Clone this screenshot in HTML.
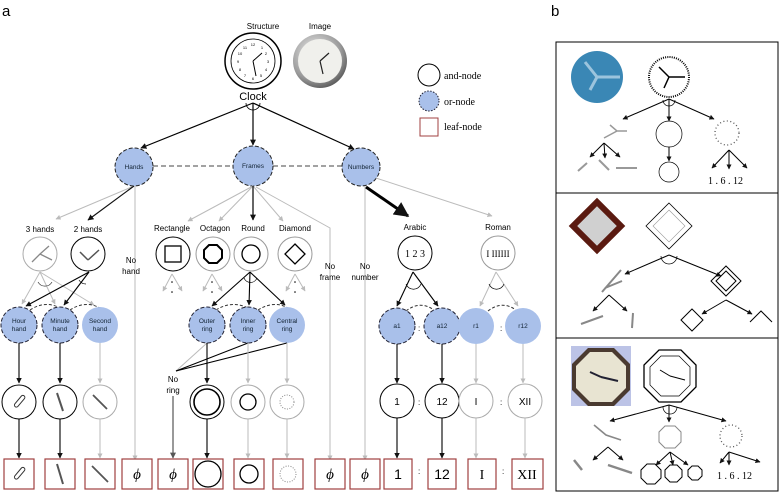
<!DOCTYPE html>
<html><head><meta charset="utf-8"><style>
html,body{margin:0;padding:0;background:#fff;}
svg{display:block;font-family:"Liberation Sans",sans-serif;}
</style></head><body>
<svg width="779" height="492" viewBox="0 0 779 492" xmlns="http://www.w3.org/2000/svg">
<defs>
<marker id="ab" viewBox="0 0 10 10" refX="9" refY="5" markerWidth="5" markerHeight="5" orient="auto-start-reverse"><path d="M0,0L10,5L0,10z" fill="#111"/></marker>
<marker id="ag" viewBox="0 0 10 10" refX="9" refY="5" markerWidth="5" markerHeight="5" orient="auto-start-reverse"><path d="M0,0L10,5L0,10z" fill="#bbb"/></marker>
<marker id="ad" viewBox="0 0 10 10" refX="9" refY="5" markerWidth="5" markerHeight="5" orient="auto-start-reverse"><path d="M0,0L10,5L0,10z" fill="#555"/></marker>
<radialGradient id="met" cx="0.4" cy="0.35" r="0.7"><stop offset="0" stop-color="#eee"/><stop offset="0.7" stop-color="#999"/><stop offset="1" stop-color="#555"/></radialGradient>
</defs>
<text x="2" y="16" font-size="15">a</text>
<text x="551" y="16" font-size="15">b</text>

<!-- top clocks -->
<text x="263" y="29" font-size="8" text-anchor="middle">Structure</text>
<text x="320" y="29" font-size="8" text-anchor="middle">Image</text>
<circle cx="253" cy="61" r="28" fill="#fff" stroke="#000" stroke-width="1.5"/>
<circle cx="253" cy="61" r="22" fill="none" stroke="#000" stroke-width="0.8"/>
<g font-size="4" text-anchor="middle"><text x="253" y="46">12</text><text x="268" y="63">3</text><text x="253" y="80">6</text><text x="238" y="63">9</text><text x="262" y="49">1</text><text x="266" y="55">2</text><text x="266" y="71">4</text><text x="261" y="77">5</text><text x="245" y="77">7</text><text x="240" y="71">8</text><text x="240" y="55">10</text><text x="245" y="49">11</text></g>
<path d="M253,61L262,53M253,61L256,76" stroke="#000" stroke-width="1"/>
<circle cx="320" cy="61" r="27" fill="url(#met)"/>
<circle cx="320" cy="61" r="22" fill="#f0f0ec"/>
<path d="M320,61L329,53M320,61L323,74" stroke="#222" stroke-width="1.2"/>
<text x="253" y="100" font-size="11" text-anchor="middle">Clock</text>
<path d="M246,103 A7,7 0 0 0 260,103" fill="none" stroke="#000" stroke-width="0.8"/>

<!-- legend -->
<circle cx="429" cy="75" r="11" fill="#fff" stroke="#000"/>
<text x="444" y="79" font-size="10" font-family="Liberation Serif">and-node</text>
<circle cx="429" cy="101" r="10" fill="#a9c0ea" stroke="#223" stroke-dasharray="1.5,1.5"/>
<text x="444" y="105" font-size="10" font-family="Liberation Serif">or-node</text>
<rect x="420" y="118" width="18" height="18" fill="#fff" stroke="#a04040"/>
<text x="444" y="130" font-size="10" font-family="Liberation Serif">leaf-node</text>

<!-- level 1 -->
<g stroke="#000" stroke-width="1.2" marker-end="url(#ab)">
<line x1="253" y1="103" x2="141" y2="148"/><line x1="253" y1="103" x2="253" y2="145"/><line x1="253" y1="103" x2="354" y2="149"/>
</g>
<line x1="153" y1="166" x2="233" y2="166" stroke="#444" stroke-dasharray="5,3"/>
<line x1="273" y1="166" x2="342" y2="166" stroke="#444" stroke-dasharray="5,3"/>
<g fill="#a9c0ea" stroke="#222" stroke-dasharray="4,2">
<circle cx="134" cy="167" r="19"/><circle cx="253" cy="166" r="20"/><circle cx="361" cy="167" r="19"/></g>
<g font-size="6.5" text-anchor="middle" fill="#123"><text x="134" y="169">Hands</text><text x="253" y="168">Frames</text><text x="361" y="169">Numbers</text></g>

<!-- from Hands -->
<line x1="134" y1="186" x2="56" y2="219" stroke="#bbb" marker-end="url(#ag)"/>
<line x1="134" y1="186" x2="88" y2="220" stroke="#111" stroke-width="1.2" marker-end="url(#ab)"/>
<line x1="135" y1="186" x2="135" y2="460" stroke="#bbb" marker-end="url(#ag)"/>
<text x="131" y="263" font-size="8" text-anchor="middle">No</text><text x="131" y="274" font-size="8" text-anchor="middle">hand</text>
<!-- from Frames -->
<g stroke="#bbb" marker-end="url(#ag)"><line x1="253" y1="186" x2="188" y2="221"/><line x1="253" y1="186" x2="219" y2="221"/><line x1="253" y1="186" x2="283" y2="221"/></g>
<line x1="253" y1="186" x2="253" y2="220" stroke="#000" stroke-width="1.2" marker-end="url(#ab)"/>
<polyline points="256,187 330,228 330,460" fill="none" stroke="#bbb" marker-end="url(#ag)"/>
<text x="330" y="269" font-size="8" text-anchor="middle">No</text><text x="330" y="280" font-size="8" text-anchor="middle">frame</text>
<!-- from Numbers -->
<line x1="365" y1="186" x2="365" y2="460" stroke="#bbb" marker-end="url(#ag)"/>
<text x="365" y="269" font-size="8" text-anchor="middle">No</text><text x="365" y="280" font-size="8" text-anchor="middle">number</text>
<line x1="366" y1="187" x2="408" y2="216" stroke="#000" stroke-width="3" marker-end="url(#ab)"/>
<line x1="376" y1="178" x2="492" y2="216" stroke="#bbb" marker-end="url(#ag)"/>

<!-- level 2 labels -->
<g font-size="8" text-anchor="middle"><text x="40" y="232">3 hands</text><text x="88" y="232">2 hands</text><text x="172" y="231">Rectangle</text><text x="215" y="231">Octagon</text><text x="253" y="231">Round</text><text x="295" y="231">Diamond</text><text x="415" y="230">Arabic</text><text x="498" y="230">Roman</text></g>
<circle cx="40" cy="254" r="17" fill="#fff" stroke="#aaa"/>
<path d="M40,254L49,246M40,254L32,262M40,254L52,260" stroke="#888" stroke-width="1.3"/>
<circle cx="88" cy="254" r="17" fill="#fff" stroke="#000"/>
<path d="M88,260L80,252M88,260L99,250" stroke="#555" stroke-width="1.5"/>
<circle cx="173" cy="254" r="17" fill="#fff" stroke="#000"/><rect x="165" y="246" width="16" height="16" fill="none" stroke="#000" stroke-width="1.3"/>
<circle cx="213" cy="254" r="17" fill="#fff" stroke="#999"/><polygon points="209,245 217,245 222,250 222,258 217,263 209,263 204,258 204,250" fill="none" stroke="#000" stroke-width="2"/>
<circle cx="251" cy="254" r="17" fill="#fff" stroke="#999"/><circle cx="251" cy="254" r="9" fill="none" stroke="#000" stroke-width="1.3"/>
<circle cx="295" cy="254" r="17" fill="#fff" stroke="#999"/><polygon points="295,244 305,254 295,264 285,254" fill="none" stroke="#000" stroke-width="1.3"/>
<circle cx="415" cy="253" r="17" fill="#fff" stroke="#000"/><text x="415" y="257" font-size="10" text-anchor="middle" font-family="Liberation Serif">1 2 3</text>
<circle cx="498" cy="253" r="17" fill="#fff" stroke="#999"/><text x="498" y="257" font-size="9" text-anchor="middle" font-family="Liberation Serif">I IIIIII</text>
<!-- dotted grey triangles -->
<g stroke="#bbb" marker-end="url(#ag)">
<line x1="172" y1="274" x2="163" y2="291"/><line x1="172" y1="274" x2="182" y2="291"/>
<line x1="212" y1="274" x2="203" y2="291"/><line x1="212" y1="274" x2="222" y2="291"/>
<line x1="295" y1="274" x2="286" y2="291"/><line x1="295" y1="274" x2="305" y2="291"/></g>
<g fill="#000"><circle cx="172" cy="282" r="0.8"/><circle cx="172" cy="292" r="0.8"/><circle cx="212" cy="282" r="0.8"/><circle cx="212" cy="292" r="0.8"/><circle cx="295" cy="282" r="0.8"/><circle cx="295" cy="292" r="0.8"/></g>

<!-- level 2 -> 3 -->
<g stroke="#bbb" marker-end="url(#ag)"><line x1="40" y1="272" x2="22" y2="304"/><line x1="40" y1="272" x2="55" y2="304"/><line x1="40" y1="272" x2="94" y2="305"/></g>
<path d="M38,282 A8,8 0 0 0 52,282" fill="none" stroke="#333" stroke-width="0.7"/>
<g stroke="#000" stroke-width="1.1" marker-end="url(#ab)"><line x1="89" y1="272" x2="26" y2="306"/><line x1="89" y1="272" x2="64" y2="305"/></g>
<path d="M79,280 A8,8 0 0 0 86,284" fill="none" stroke="#000" stroke-width="0.7"/>
<g stroke="#000" stroke-width="1.1" marker-end="url(#ab)"><line x1="250" y1="272" x2="212" y2="306"/><line x1="250" y1="272" x2="249" y2="305"/><line x1="250" y1="272" x2="285" y2="305"/></g>
<path d="M244,278 A7,7 0 0 0 257,278" fill="none" stroke="#000" stroke-width="0.7"/>
<g stroke="#000" stroke-width="1.1" marker-end="url(#ab)"><line x1="413" y1="272" x2="397" y2="306"/><line x1="413" y1="272" x2="438" y2="306"/></g>
<path d="M406,284 A8,8 0 0 0 421,284" fill="none" stroke="#000" stroke-width="0.7"/>
<g stroke="#bbb" marker-end="url(#ag)"><line x1="496" y1="272" x2="480" y2="306"/><line x1="496" y1="272" x2="518" y2="306"/></g>
<path d="M489,284 A8,8 0 0 0 504,284" fill="none" stroke="#000" stroke-width="0.7"/>
<!-- dashed arcs between or nodes -->
<g fill="none" stroke="#333" stroke-dasharray="3,2"><path d="M30,310 Q45,300 60,308"/><path d="M70,310 Q85,300 100,308"/><path d="M216,310 Q232,300 248,308"/><path d="M258,310 Q274,300 288,308"/><path d="M406,311 Q420,300 434,310"/><path d="M488,311 Q502,300 516,310"/></g>

<!-- level 3 or nodes -->
<g fill="#a9c0ea" stroke="#223" stroke-dasharray="4,2"><circle cx="19" cy="325" r="18"/><circle cx="60" cy="325" r="18"/><circle cx="207" cy="325" r="18"/><circle cx="248" cy="325" r="18"/><circle cx="397" cy="326" r="18"/><circle cx="442" cy="326" r="18"/></g>
<g fill="#a9c0ea"><circle cx="100" cy="325" r="18"/><circle cx="287" cy="325" r="18"/><circle cx="476" cy="326" r="18"/><circle cx="523" cy="326" r="18"/></g>
<g font-size="6.5" text-anchor="middle" fill="#123">
<text x="19" y="323">Hour</text><text x="19" y="331">hand</text><text x="60" y="323">Minute</text><text x="60" y="331">hand</text><text x="100" y="323">Second</text><text x="100" y="331">hand</text>
<text x="207" y="323">Outer</text><text x="207" y="331">ring</text><text x="248" y="323">Inner</text><text x="248" y="331">ring</text><text x="287" y="323">Central</text><text x="287" y="331">ring</text>
<text x="397" y="328">a1</text><text x="442" y="328">a12</text><text x="476" y="328">r1</text><text x="523" y="328">r12</text></g>
<g font-size="8"><text x="418" y="331">:</text><text x="500" y="331">:</text><text x="418" y="405">:</text><text x="500" y="405">:</text><text x="418" y="474">:</text><text x="502" y="474">:</text></g>

<!-- No ring -->
<line x1="207" y1="343" x2="176" y2="371" stroke="#bbb"/>
<line x1="248" y1="343" x2="176" y2="371" stroke="#000"/>
<line x1="287" y1="343" x2="176" y2="371" stroke="#000"/>
<text x="173" y="382" font-size="8" text-anchor="middle">No</text><text x="173" y="393" font-size="8" text-anchor="middle">ring</text>
<line x1="173" y1="396" x2="173" y2="458" stroke="#555" stroke-width="1.2" marker-end="url(#ad)"/>

<!-- level 3 -> 4 -->
<g stroke="#000" stroke-width="1.1" marker-end="url(#ab)"><line x1="19" y1="343" x2="19" y2="383"/><line x1="60" y1="343" x2="60" y2="383"/><line x1="207" y1="343" x2="207" y2="383"/><line x1="397" y1="344" x2="397" y2="383"/><line x1="442" y1="344" x2="442" y2="383"/></g>
<g stroke="#bbb" marker-end="url(#ag)"><line x1="100" y1="343" x2="100" y2="383"/><line x1="248" y1="343" x2="248" y2="383"/><line x1="287" y1="343" x2="287" y2="383"/><line x1="476" y1="344" x2="476" y2="383"/><line x1="523" y1="344" x2="523" y2="383"/></g>

<!-- level 4 -->
<circle cx="19" cy="402" r="17" fill="#fff" stroke="#000"/><rect x="13" y="400" width="14" height="4" rx="2" transform="rotate(-50 19 402)" fill="none" stroke="#333"/>
<circle cx="60" cy="402" r="17" fill="#fff" stroke="#000"/><line x1="57" y1="393" x2="63" y2="411" stroke="#555" stroke-width="2"/>
<circle cx="100" cy="402" r="17" fill="#fff" stroke="#aaa"/><line x1="93" y1="395" x2="107" y2="409" stroke="#555" stroke-width="1.8"/>
<circle cx="207" cy="402" r="17" fill="#fff" stroke="#000"/><circle cx="207" cy="402" r="13" fill="none" stroke="#000" stroke-width="1.6"/>
<circle cx="248" cy="402" r="17" fill="#fff" stroke="#aaa"/><circle cx="248" cy="402" r="8" fill="none" stroke="#000" stroke-width="1.3"/>
<circle cx="287" cy="402" r="17" fill="#fff" stroke="#aaa"/><circle cx="287" cy="402" r="7" fill="none" stroke="#888" stroke-dasharray="1,1.5"/>
<circle cx="397" cy="401" r="17" fill="#fff" stroke="#000"/><text x="397" y="405" font-size="10" text-anchor="middle">1</text>
<circle cx="442" cy="401" r="17" fill="#fff" stroke="#000"/><text x="442" y="405" font-size="10" text-anchor="middle">12</text>
<circle cx="476" cy="401" r="17" fill="#fff" stroke="#aaa"/><text x="476" y="405" font-size="10" text-anchor="middle">I</text>
<circle cx="525" cy="401" r="17" fill="#fff" stroke="#aaa"/><text x="525" y="405" font-size="10" text-anchor="middle">XII</text>

<!-- level 4 -> leaves -->
<g stroke="#000" stroke-width="1.1" marker-end="url(#ab)"><line x1="19" y1="419" x2="19" y2="458"/><line x1="60" y1="419" x2="60" y2="458"/><line x1="207" y1="419" x2="207" y2="458"/><line x1="397" y1="418" x2="397" y2="458"/><line x1="442" y1="418" x2="442" y2="458"/></g>
<g stroke="#bbb" marker-end="url(#ag)"><line x1="100" y1="419" x2="100" y2="458"/><line x1="248" y1="419" x2="248" y2="458"/><line x1="287" y1="419" x2="287" y2="458"/><line x1="476" y1="418" x2="476" y2="458"/><line x1="525" y1="418" x2="525" y2="458"/></g>

<!-- leaves -->
<g fill="#fff" stroke="#a04040" stroke-width="1.2">
<rect x="4" y="459" width="30" height="30"/><rect x="45" y="459" width="30" height="30"/><rect x="85" y="459" width="30" height="30"/><rect x="122" y="459" width="30" height="30"/><rect x="158" y="459" width="30" height="30"/><rect x="193" y="459" width="30" height="30"/><rect x="234" y="459" width="30" height="30"/><rect x="273" y="459" width="30" height="30"/><rect x="315" y="459" width="30" height="30"/><rect x="350" y="459" width="30" height="30"/><rect x="384" y="459" width="28" height="30"/><rect x="428" y="459" width="28" height="30"/><rect x="468" y="459" width="28" height="30"/><rect x="512" y="459" width="31" height="30"/></g>
<rect x="13" y="472" width="14" height="4" rx="2" transform="rotate(-50 19 474)" fill="none" stroke="#333"/>
<line x1="57" y1="464" x2="63" y2="484" stroke="#555" stroke-width="2"/>
<line x1="92" y1="466" x2="108" y2="482" stroke="#555" stroke-width="1.8"/>
<g font-size="15" font-family="Liberation Serif" font-style="italic" text-anchor="middle"><text x="137" y="479">ϕ</text><text x="173" y="479">ϕ</text><text x="330" y="479">ϕ</text><text x="365" y="479">ϕ</text></g>
<circle cx="208" cy="474" r="13" fill="none" stroke="#000" stroke-width="1.3"/>
<circle cx="249" cy="474" r="9" fill="none" stroke="#000" stroke-width="1.3"/>
<circle cx="288" cy="474" r="8" fill="none" stroke="#888" stroke-dasharray="1,1.5"/>
<g font-size="14" text-anchor="middle"><text x="398" y="479">1</text><text x="442" y="479">12</text></g>
<g font-size="14" text-anchor="middle" font-family="Liberation Serif"><text x="482" y="479">I</text><text x="527" y="479">XII</text></g>

<!-- Panel b -->
<rect x="556" y="42" width="222" height="449" fill="none" stroke="#000"/>
<line x1="556" y1="193" x2="778" y2="193" stroke="#000"/>
<line x1="556" y1="338" x2="778" y2="338" stroke="#000"/>
<!-- box1 -->
<circle cx="597" cy="77" r="26" fill="#3a87b5"/>
<path d="M597,77L585,62M597,77L590,90M597,77L620,77" stroke="#9cc4dd" stroke-width="3"/>
<circle cx="669" cy="77" r="20" fill="#fff" stroke="#000" stroke-dasharray="1,1.2" stroke-width="2"/>
<path d="M669,77L659,67M669,77L664,88M669,77L685,77" stroke="#000" stroke-width="1.5"/>
<path d="M663,100 A6,6 0 0 0 675,100" fill="none" stroke="#000" stroke-width="0.7"/>
<g stroke="#000" marker-end="url(#ab)"><line x1="669" y1="99" x2="623" y2="119"/><line x1="669" y1="99" x2="669" y2="121"/><line x1="669" y1="99" x2="714" y2="119"/></g>
<path d="M610,125L617,131L604,138M617,131L627,131" stroke="#999" stroke-width="1.5" fill="none"/>
<circle cx="669" cy="134" r="13" fill="none" stroke="#000" stroke-width="0.7"/>
<line x1="669" y1="147" x2="669" y2="161" stroke="#000" marker-end="url(#ab)"/>
<circle cx="669" cy="172" r="10" fill="none" stroke="#000" stroke-width="0.7"/>
<circle cx="727" cy="133" r="12" fill="none" stroke="#555" stroke-dasharray="1,2.5" stroke-width="1.3"/>
<g stroke="#000" marker-end="url(#ab)"><line x1="604" y1="143" x2="590" y2="157"/><line x1="604" y1="143" x2="605" y2="158"/><line x1="604" y1="143" x2="620" y2="157"/>
<line x1="729" y1="150" x2="712" y2="168"/><line x1="729" y1="150" x2="729" y2="169"/><line x1="729" y1="150" x2="747" y2="168"/></g>
<path d="M578,171L587,163M599,160L609,170M616,168L637,168" stroke="#999" stroke-width="2"/>
<text x="708" y="184" font-size="10" font-family="Liberation Serif">1 . 6 . 12</text>
<!-- box2 -->
<rect x="577" y="206" width="40" height="40" transform="rotate(45 597 226)" fill="#5a1a10"/>
<rect x="583" y="212" width="28" height="28" transform="rotate(45 597 226)" fill="#d0d0d0"/>
<polygon points="669,203 692,226 669,249 646,226" fill="#fff" stroke="#000" stroke-width="0.8"/>
<polygon points="669,210 685,226 669,242 653,226" fill="none" stroke="#999" stroke-width="0.6"/>
<path d="M661,256 A8,8 0 0 0 677,256" fill="none" stroke="#000" stroke-width="0.7"/>
<g stroke="#000" marker-end="url(#ab)"><line x1="669" y1="255" x2="625" y2="274"/><line x1="669" y1="255" x2="721" y2="276"/></g>
<path d="M602,292L621,270M605,288L622,281" stroke="#888" stroke-width="2"/>
<polygon points="726,266 741,281 726,296 711,281" fill="none" stroke="#000"/>
<polygon points="726,271 736,281 726,291 716,281" fill="none" stroke="#000"/>
<g stroke="#000" marker-end="url(#ab)"><line x1="609" y1="295" x2="593" y2="311"/><line x1="609" y1="295" x2="627" y2="311"/><line x1="726" y1="300" x2="702" y2="314"/><line x1="726" y1="300" x2="752" y2="314"/></g>
<path d="M581,324L603,316M633,313L632,328" stroke="#888" stroke-width="2"/>
<polygon points="692,309 703,320 692,331 681,320" fill="none" stroke="#000"/>
<polyline points="750,322 761,311 772,322" fill="none" stroke="#000"/>
<!-- box3 -->
<rect x="571" y="346" width="60" height="60" fill="#bcc3e6"/>
<polygon points="588,348 614,348 630,364 630,390 614,406 588,406 572,390 572,364" fill="#4a3a30"/>
<polygon points="590,352 612,352 626,366 626,388 612,402 590,402 576,388 576,366" fill="#e8e4d2"/>
<path d="M601,377L590,372M601,377L618,381" stroke="#223" stroke-width="2"/>
<polygon points="659,350 681,350 696,365 696,387 681,402 659,402 644,387 644,365" fill="#fff" stroke="#000" stroke-width="1.3"/>
<polygon points="661,356 679,356 690,367 690,385 679,396 661,396 650,385 650,367" fill="none" stroke="#000" stroke-width="0.7"/>
<path d="M670,376L660,370M670,376L685,380" stroke="#000"/>
<path d="M663,407 A7,7 0 0 0 677,407" fill="none" stroke="#000" stroke-width="0.7"/>
<g stroke="#000" marker-end="url(#ab)"><line x1="669" y1="405" x2="610" y2="421"/><line x1="669" y1="405" x2="669" y2="422"/><line x1="669" y1="405" x2="726" y2="421"/></g>
<path d="M594,425L606,435L621,440" stroke="#888" stroke-width="1.6" fill="none"/>
<polygon points="665,426 675,426 681,432 681,442 675,448 665,448 659,442 659,432" fill="none" stroke="#888"/>
<circle cx="731" cy="436" r="11" fill="none" stroke="#555" stroke-dasharray="1,2.5" stroke-width="1.3"/>
<g stroke="#000" marker-end="url(#ab)"><line x1="608" y1="447" x2="593" y2="460"/><line x1="608" y1="447" x2="623" y2="460"/>
<line x1="670" y1="452" x2="656" y2="465"/><line x1="670" y1="452" x2="673" y2="465"/><line x1="670" y1="452" x2="688" y2="465"/>
<line x1="729" y1="452" x2="720" y2="463"/><line x1="729" y1="452" x2="729" y2="465"/><line x1="729" y1="452" x2="760" y2="462"/></g>
<path d="M574,460L582,470M608,465L632,473" stroke="#888" stroke-width="2.5"/>
<g fill="none" stroke="#000"><polygon points="647,464 655,464 661,470 661,478 655,484 647,484 641,478 641,470"/><polygon points="670,465 677,465 682,470 682,477 677,482 670,482 665,477 665,470"/><polygon points="692,466 698,466 702,470 702,476 698,480 692,480 688,476 688,470"/></g>
<text x="717" y="479" font-size="10" font-family="Liberation Serif">1 . 6 . 12</text>
</svg>
</body></html>
